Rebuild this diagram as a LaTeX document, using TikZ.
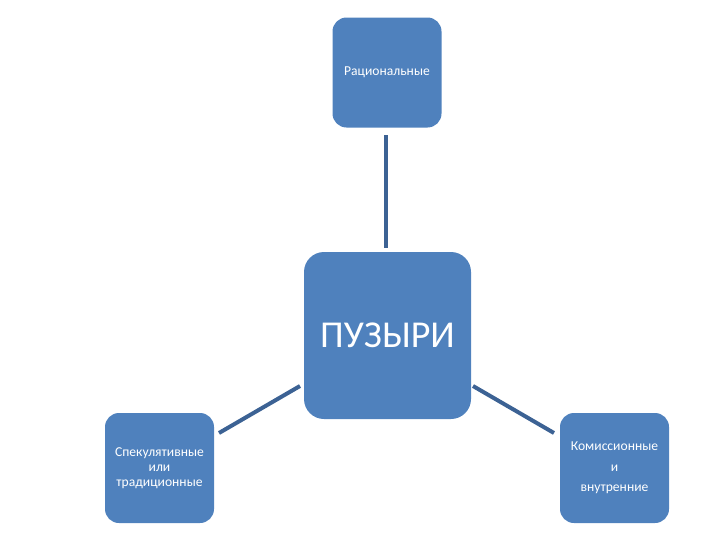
\documentclass[tikz,border=0pt]{standalone}
\usepackage{fontspec}
\setmainfont{Carlito}
\definecolor{boxblue}{RGB}{79,129,189}
\definecolor{lineblue}{RGB}{60,98,148}
\begin{document}
\begin{tikzpicture}[x=1pt,y=-1pt,
  smallbox/.style={fill=boxblue,draw=none,rounded corners=14pt,minimum width=109pt,minimum height=110pt,inner sep=0pt,text=white,align=center,font=\fontsize{13.6}{15}\selectfont},
  bigbox/.style={fill=boxblue,draw=none,rounded corners=20pt,minimum width=167pt,minimum height=167pt,inner sep=0pt,text=white,font=\fontsize{38}{42}\selectfont},
  conn/.style={draw=lineblue,line width=4pt}]
\useasboundingbox (0,0) rectangle (716,546);
\node[bigbox] (c) at (387.5,335.5) {ПУЗЫРИ};
\node[smallbox] (t) at (387,72.5) {Рациональные};
\node[smallbox] (l) at (159.5,468) {Спекулятивные\\или\\традиционные};
\node[smallbox,font=\fontsize{13.6}{20.5}\selectfont] (r) at (614.5,468) {Комиссионные\\и\\внутренние};
\coordinate (t1) at (386,135);
\coordinate (t2) at (386,248);
\coordinate (l1) at (219,433);
\coordinate (l2) at (300,386);
\coordinate (r1) at (473,386);
\coordinate (r2) at (554,433);
\draw[conn] (t1) -- (t2);
\draw[conn] (l1) -- (l2);
\draw[conn] (r1) -- (r2);
\end{tikzpicture}
\end{document}
